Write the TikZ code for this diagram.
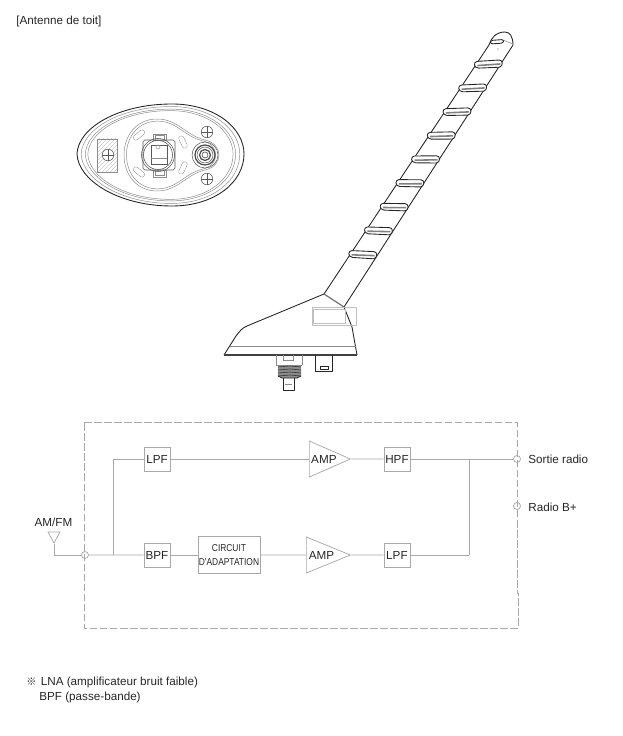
\documentclass[tikz,border=0pt]{standalone}
\usepackage{fontspec}
\setmainfont{Liberation Sans}
\newfontfamily\narrowfont[FakeStretch=0.84]{Liberation Sans}
\newfontfamily\cjkfont{Noto Sans CJK KR}
\usetikzlibrary{positioning}
\usetikzlibrary{shapes.geometric}
\definecolor{wiregray}{gray}{0.66}
\definecolor{inkgray}{gray}{0.15}
\tikzset{
  wire/.style={draw=wiregray,line width=0.42pt},
  filterbox/.style={draw=wiregray,line width=0.42pt,minimum width=0.52cm,minimum height=0.48cm,inner sep=0pt,text=inkgray},
  adaptbox/.style={draw=wiregray,line width=0.42pt,minimum width=1.24cm,minimum height=0.74cm,inner sep=0pt,text=inkgray,align=center,font=\narrowfont\fontsize{5.7}{8}\selectfont},
  amptri/.style={isosceles triangle,isosceles triangle stretches,draw=wiregray,line width=0.42pt,inner sep=0pt,minimum width=0.72cm,text=inkgray,anchor=west},
  port/.style={circle,draw=wiregray,line width=0.42pt,minimum size=0.14cm,inner sep=0pt},
  tag/.style={inner sep=0pt,text=inkgray,anchor=west},
  ink/.style={draw=black!85,line width=0.5pt,line join=round},
  fine/.style={draw=black!45,line width=0.28pt},
  screw/.style={draw=black!65,line width=0.32pt}
}
\newcommand{\eggline}{(77,154) .. controls (78,128) and (118,104) .. (172,104) .. controls (215,104) and (244,128) .. (244,154) .. controls (244,182) and (215,206) .. (172,206) .. controls (118,206) and (78,180) .. (77,154) -- cycle}
\newcommand{\lobeline}{(157,119) .. controls (178,119) and (185,135) .. (205,140) .. controls (214,142) and (219,148) .. (219,155) .. controls (219,162) and (214,168) .. (205,170) .. controls (185,175) and (178,191) .. (157,191) .. controls (137,191) and (124,175) .. (124,155) .. controls (124,135) and (137,119) .. (157,119) -- cycle}
\begin{document}
\begin{tikzpicture}[x=0.02cm,y=-0.02cm,font=\fontsize{6.65}{8}\selectfont,node distance=1.92cm,on grid]
  \useasboundingbox (0,0) rectangle (622,736);

  \node[tag] (title) at (16,21) {[Antenne de toit]};

  % bottom view
  \draw[ink] \eggline;
  \foreach \f in {0.95,0.90,0.87}
    \draw[fine,scale around={\f:(160,155)}] \eggline;
  \draw[fine] \lobeline;
  \draw[fine,scale around={0.94:(165,155)}] \lobeline;
  \begin{scope}
    \clip (97,139) rectangle (117,172);
    \foreach \a in {139,143,...,195}
      \draw[black!35,line width=0.2pt] (95,\a) -- (125,\a-30);
  \end{scope}
  \draw[fine] (97,139) rectangle (117,172);
  \foreach \sx/\sy in {108/155,207/132,207/179} {
    \draw[screw,fill=white] (\sx,\sy) circle (5.8);
    \draw[screw] (\sx-5.8,\sy) -- (\sx+5.8,\sy) (\sx,\sy-5.8) -- (\sx,\sy+5.8);
  }
  \foreach \sx/\sy/\r in {139/135/40,139/172/-40,183/142/-65,183/168/65}
    \draw[black!45,line width=0.28pt,double=white,double distance=2.6pt,line cap=round,shift={(\sx,\sy)},rotate=\r] (-4,0) -- (4,0);
  \draw[screw,rounded corners=1pt] (143,140) rectangle (175,170);
  \draw[fine] (153,134) rectangle (166,140) (153,170) rectangle (166,177);
  \draw[fine] (155,135.5) rectangle (164,140) (155,170) rectangle (164,175.5);
  \foreach \r in {16.5,14.5}
    \draw[screw] (158,155) circle (\r);
  \draw[screw] (151,145) rectangle (167,164);
  \draw[fine] (158,147) circle (2);
  \draw[fine] (151,158) -- (167,158);
  \foreach \r/\w in {13/0.28,10/0.7,8/0.28,5.5/0.7,3/0.35}
    \draw[black!70,line width=\w pt] (205,155) circle (\r);

  % whip
  \draw[ink] (489,45) .. controls (491,38) and (496,32) .. (505,32) .. controls (510,32) and (513,37) .. (513,45) -- (344,307);
  \draw[ink] (489,45) -- (324,294);
  \draw[fine] (503,40) -- (513,44);
  \fill[black!60] (498,49) circle (0.6);
  \draw[ink,fill=white,rounded corners=1.2pt] (490.5,40.5) -- (503.5,39.5) -- (503.5,43) -- (490.5,44) -- cycle;
  \foreach \i in {0,...,8} {
    \pgfmathsetmacro{\cx}{488.3-15.7*\i}
    \pgfmathsetmacro{\cy}{64+23.8*\i}
    \pgfmathsetmacro{\t}{3-0.75*\i}
    \begin{scope}[shift={(\cx,\cy)},rotate=\t]
      \draw[ink,fill=white] (-11,-3.2) -- (11,-3.4) .. controls (15,-3.4) and (15,3) .. (11,3.8) -- (-10,3.6) .. controls (-15,3.2) and (-15,-3) .. (-11,-3.2) -- cycle;
      \draw[black!50,line width=0.9pt] (-11,1) -- (12,0.6);
    \end{scope}
  }

  % base
  \draw[black!55,line width=0.7pt] (324,294) -- (344,307);
  \draw[ink] (324,294) -- (247,326) .. controls (242,328) and (240,331) .. (236,336) -- (224,355);
  \draw[ink] (344,307) -- (352,327) -- (357,355);
  \draw[draw=black!75,line width=0.8pt] (224,355) -- (357,355);
  \draw[fine] (230,346) -- (356,346);
  \draw[black!25,line width=0.3pt] (344,307) -- (356,307) -- (356,325) -- (312,325) -- (312,307) -- (344,307);
  \draw[black!25,line width=0.3pt] (313.5,309) rectangle (345,323);

  % connectors
  \draw[fine] (276,355) -- (276,365) (302,355) -- (302,365) (276,365) -- (302,365);
  \draw[fine] (283,355) -- (283,360) -- (293,360) -- (293,355);
  \fill[black!45] (278,365) -- (301,365) -- (301,376) -- (297,378) -- (282,378) -- (278,376) -- cycle;
  \foreach \a in {367,370,373,376}
    \draw[black!80,line width=0.35pt] (278,\a) -- (290,\a-1) -- (301,\a);
  \draw[ink] (278,376) -- (282,378) -- (297,378) -- (301,376);
  \draw[ink] (283,378) -- (283,390) -- (294,390) -- (294,378);
  \draw[fine] (285,384) -- (292,384);
  \draw[ink] (315,355) -- (315,371) -- (332,371) -- (332,355);
  \draw[ink,line width=0.35pt] (320,366) rectangle (328,369);

  % block diagram
  \draw[draw=wiregray,line width=0.42pt,dash pattern=on 4.4pt off 1.3pt] (84,422) -- (517,422) -- (517,593) -- (518.5,593) -- (518.5,628) -- (84,628) -- cycle;

  \node[filterbox]                      (lpf_a) at (157,459) {LPF};
  \node[filterbox, below=of lpf_a]      (bpf)                {BPF};
  \node[adaptbox, right=1.44cm of bpf]  (adapt)              {CIRCUIT\\D'ADAPTATION};
  \node[filterbox, right=4.8cm of lpf_a](hpf)                {HPF};
  \node[filterbox, below=of hpf]        (lpf_b)              {LPF};
  \node[amptri, minimum height=0.82cm]  (amp_a) at (309,459) {AMP};
  \node[amptri, minimum height=0.88cm]  (amp_b) at (306,555) {AMP};

  \node[port] (in)    at (85,555)  {};
  \node[port] (out)   at (517,459) {};
  \node[port] (power) at (517,506) {};
  \node[isosceles triangle,isosceles triangle stretches,shape border rotate=270,draw=wiregray,line width=0.42pt,inner sep=0pt,minimum width=0.24cm,minimum height=0.22cm] (aerial) at (54,535.5) {};
  \coordinate (split) at (113,555);
  \coordinate (join)  at (469,459);

  \node[tag,anchor=center] (amfm)  at (53.5,522) {AM/FM};
  \node[tag] (outtag)   at (528,459.5) {Sortie radio};
  \node[tag] (powertag) at (528,507)   {Radio B+};

  \path[wire] (aerial.apex) edge (54,555)
              (54,555)      edge (in)
              (in)          edge (bpf)
              (split)       edge (split |- lpf_a)
              (split |- lpf_a) edge (lpf_a)
              (lpf_a)       edge (amp_a.west)
              (amp_a.east)  edge (hpf)
              (hpf)         edge (out)
              (bpf)         edge (adapt)
              (adapt)       edge (amp_b.west)
              (amp_b.east)  edge (lpf_b)
              (lpf_b)       edge (join |- lpf_b)
              (join |- lpf_b) edge (join);

  \node[tag] (note_a) at (26,682) {{\cjkfont\fontsize{5.8}{8}\selectfont ※}\hspace{0.6pt} LNA (amplificateur bruit faible)};
  \node[tag] (note_b) at (39,697) {BPF (passe-bande)};
\end{tikzpicture}
\end{document}
